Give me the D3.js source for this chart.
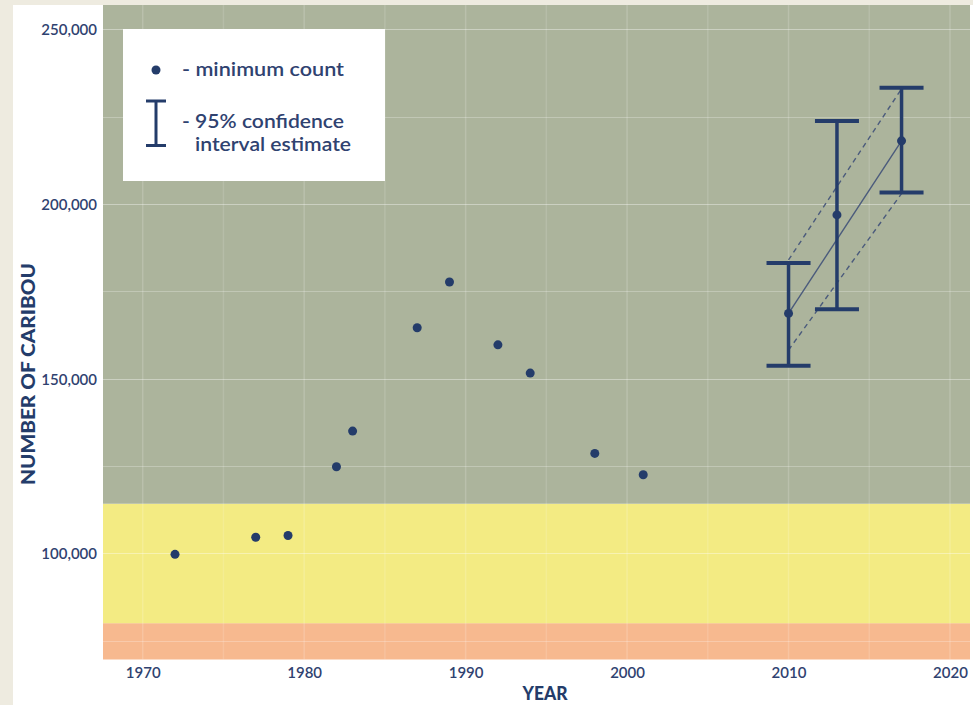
<!DOCTYPE html>
<html>
<head>
<meta charset="utf-8">
<script src="https://cdn.jsdelivr.net/npm/d3@7"></script>
<style>
  html, body { margin: 0; padding: 0; background: #eeebe0; }
  svg { display: block; }
  text { font-family: Lato, "Open Sans", sans-serif; }
</style>
</head>
<body>
<svg id="chart" width="973" height="705"></svg>
<script>
// ---- Data ----
const countYears  = [1972, 1977, 1979, 1982, 1983, 1987, 1989, 1992, 1994, 1998, 2001];
const countValues = [99700, 104600, 105100, 124800, 135000, 164600, 177700, 159700, 151600, 128600, 122500];

const estYears = [2010, 2013, 2017];
const estValues = [168700, 196900, 218100];
const estLow    = [153700, 169900, 203300];
const estHigh   = [183100, 223800, 233300];

// trend lines between first and last estimate
const trendYears = [2010, 2017];
const trendMid   = [168700, 218100];
const trendUpper = [184000, 233000];
const trendLower = [158200, 203000];

// status bands (value thresholds)
const bandNames  = ["critical", "cautious", "healthy"];
const bandLows   = [69600, 80000, 114200];
const bandHighs  = [80000, 114200, 257000];
const bandColors = ["#f7b98f", "#f3eb83", "#acb49c"];

const yTickValues = [100000, 150000, 200000, 250000];
const xTickValues = [1970, 1980, 1990, 2000, 2010, 2020];
const yGridValues = [75000, 100000, 125000, 150000, 175000, 200000, 225000, 250000];
const xGridValues = [1970, 1975, 1980, 1985, 1990, 1995, 2000, 2005, 2010, 2015, 2020];

const legendLabels = ["- minimum count", "- 95% confidence", "interval estimate"];
const yTitle = "NUMBER OF CARIBOU";
const xTitle = "YEAR";

// ---- Layout ----
const navy = "#243c6a";
const textNavy = "#2f4270";
const plot = { left: 103, right: 970, top: 5, bottom: 659.5 };

const svg = d3.select("#chart");

// white panel
svg.append("rect").attr("x", 13).attr("y", 5).attr("width", 960).attr("height", 700).attr("fill", "#ffffff");

const x = d3.scaleLinear().domain([1967.54, 2021.24]).range([plot.left, plot.right]);
const y = d3.scaleLinear().domain([69600, 257000]).range([plot.bottom, plot.top]);

// bands
svg.append("g").selectAll("rect").data(bandNames).join("rect")
  .attr("x", plot.left)
  .attr("width", plot.right - plot.left)
  .attr("y", (d, i) => y(bandHighs[i]))
  .attr("height", (d, i) => y(bandLows[i]) - y(bandHighs[i]))
  .attr("fill", (d, i) => bandColors[i]);

// grid
const grid = svg.append("g");
grid.selectAll("line.h").data(yGridValues).join("line").attr("class", "h")
  .attr("x1", plot.left).attr("x2", plot.right)
  .attr("y1", d => Math.round(y(d)) + 0.5).attr("y2", d => Math.round(y(d)) + 0.5)
  .attr("stroke", "#ffffff")
  .attr("stroke-opacity", d => d % 50000 === 0 ? 0.38 : 0.25)
  .attr("stroke-width", 1);
grid.selectAll("line.v").data(xGridValues).join("line").attr("class", "v")
  .attr("y1", plot.top).attr("y2", plot.bottom)
  .attr("x1", d => x(d)).attr("x2", d => x(d))
  .attr("stroke", "#ffffff")
  .attr("stroke-opacity", d => d % 10 === 0 ? 0.17 : 0.13)
  .attr("stroke-width", 1.5);

// axes
const yAxis = svg.append("g").attr("transform", `translate(${plot.left - 6},0)`)
  .call(d3.axisLeft(y).tickValues(yTickValues).tickFormat(d3.format(",")).tickSize(0).tickPadding(0));
yAxis.select(".domain").remove();
yAxis.selectAll("text").attr("fill", textNavy).style("font-size", "15px").style("font-weight", 600)
  .style("font-family", "Lato, sans-serif").attr("dy", "0.36em");

const xAxis = svg.append("g").attr("transform", `translate(0,${plot.bottom})`)
  .call(d3.axisBottom(x).tickValues(xTickValues).tickFormat(d3.format("d")).tickSize(0).tickPadding(0));
xAxis.select(".domain").remove();
xAxis.selectAll("text").attr("fill", textNavy).style("font-size", "15px").style("font-weight", 600)
  .style("font-family", "Lato, sans-serif").attr("y", 18).attr("dy", 0);

// axis titles
svg.append("text")
  .attr("transform", `translate(35,374) rotate(-90)`)
  .attr("text-anchor", "middle")
  .attr("fill", navy).style("font-weight", 900).style("font-size", "19px")
  .attr("textLength", 222).attr("lengthAdjust", "spacingAndGlyphs")
  .text(yTitle);
svg.append("text")
  .attr("x", 545).attr("y", 699.5)
  .attr("text-anchor", "middle")
  .attr("fill", navy).style("font-weight", 900).style("font-size", "19.5px")
  .attr("textLength", 45).attr("lengthAdjust", "spacingAndGlyphs")
  .text(xTitle);

// legend
const lg = svg.append("g");
lg.append("rect").attr("x", 123).attr("y", 29).attr("width", 262).attr("height", 152).attr("fill", "#ffffff");
lg.append("circle").attr("cx", 156).attr("cy", 70).attr("r", 4.5).attr("fill", navy);
lg.append("line").attr("x1", 156).attr("x2", 156).attr("y1", 100).attr("y2", 146).attr("stroke", navy).attr("stroke-width", 3);
lg.append("line").attr("x1", 146).attr("x2", 166).attr("y1", 101).attr("y2", 101).attr("stroke", navy).attr("stroke-width", 3);
lg.append("line").attr("x1", 146).attr("x2", 166).attr("y1", 145.5).attr("y2", 145.5).attr("stroke", navy).attr("stroke-width", 3);
const legendPos = [[182, 76, 162], [182, 127.5, 162], [195, 150.5, 156]];
lg.selectAll("text").data(legendLabels).join("text")
  .attr("x", (d, i) => legendPos[i][0]).attr("y", (d, i) => legendPos[i][1])
  .attr("fill", textNavy).style("font-size", "20px").style("font-weight", 600)
  .attr("textLength", (d, i) => legendPos[i][2]).attr("lengthAdjust", "spacingAndGlyphs")
  .text(d => d);

// trend lines
const line = d3.line().x(d => x(d[0])).y(d => y(d[1]));
const trendSets = [
  { vals: trendUpper, dash: "5,4" },
  { vals: trendLower, dash: "5,4" },
  { vals: trendMid, dash: null }
];
svg.append("g").selectAll("path").data(trendSets).join("path")
  .attr("d", s => line(trendYears.map((yr, i) => [yr, s.vals[i]])))
  .attr("fill", "none")
  .attr("stroke", "#4b5b7c")
  .attr("stroke-width", 1.4)
  .attr("stroke-dasharray", s => s.dash);

// error bars
const eb = svg.append("g").selectAll("g").data(estYears).join("g");
eb.append("line")
  .attr("x1", d => x(d)).attr("x2", d => x(d))
  .attr("y1", (d, i) => y(estHigh[i])).attr("y2", (d, i) => y(estLow[i]))
  .attr("stroke", navy).attr("stroke-width", 3.5);
eb.append("line")
  .attr("x1", d => x(d) - 22).attr("x2", d => x(d) + 22)
  .attr("y1", (d, i) => y(estHigh[i])).attr("y2", (d, i) => y(estHigh[i]))
  .attr("stroke", navy).attr("stroke-width", 4);
eb.append("line")
  .attr("x1", d => x(d) - 22).attr("x2", d => x(d) + 22)
  .attr("y1", (d, i) => y(estLow[i])).attr("y2", (d, i) => y(estLow[i]))
  .attr("stroke", navy).attr("stroke-width", 4);
eb.append("circle")
  .attr("cx", d => x(d)).attr("cy", (d, i) => y(estValues[i]))
  .attr("r", 4.5).attr("fill", navy);

// minimum counts
svg.append("g").selectAll("circle").data(countYears).join("circle")
  .attr("cx", d => x(d)).attr("cy", (d, i) => y(countValues[i]))
  .attr("r", 4.5).attr("fill", navy);
</script>
</body>
</html>
